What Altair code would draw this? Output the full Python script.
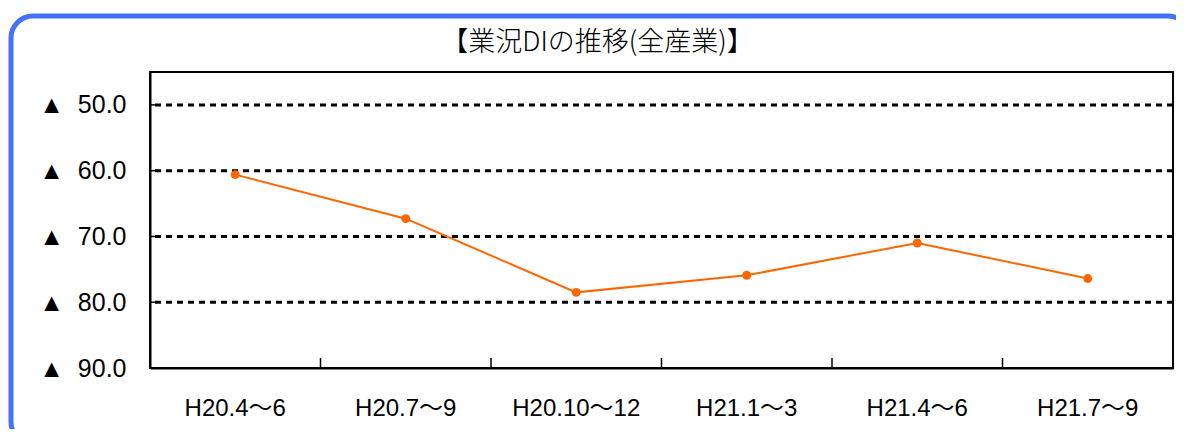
import altair as alt
import pandas as pd

categories = ["H20.4～6", "H20.7～9", "H20.10～12", "H21.1～3", "H21.4～6", "H21.7～9"]
values = [60.6, 67.3, 78.5, 75.9, 71.0, 76.4]
y_ticks = [50, 60, 70, 80, 90]
grid_values = [50, 60, 70, 80]
title_text = "【業況DIの推移(全産業)】"

FONT = "Noto Sans CJK JP"
LFONT = "Liberation Sans, Noto Sans CJK JP"

df = pd.DataFrame({"period": categories, "di": values})
grid_df = pd.DataFrame({"di": grid_values})
ytick_df = pd.DataFrame({"di": y_ticks})
xtick_df = pd.DataFrame({"period": categories[:-1]})

xscale = alt.Scale(type="band", paddingInner=0, paddingOuter=0, domain=categories)
yscale = alt.Scale(domain=[45, 90], reverse=True, nice=False, zero=False)

xaxis = alt.Axis(labelAngle=0, ticks=False, domainColor="black", domainWidth=2,
                 labelPadding=28, labelFontSize=24, labelFont=LFONT,
                 labelColor="black", grid=False)
yaxis = alt.Axis(values=y_ticks,
                 labelExpr="'▲\u00a0\u00a0' + format(datum.value, '.1f')",
                 grid=False, ticks=False, domainColor="black", domainWidth=2,
                 labelPadding=24, labelFontSize=25, labelFont=LFONT,
                 labelColor="black")

border = alt.Chart(pd.DataFrame({"a": [0]})).mark_rect(
    fillOpacity=0, stroke="#4472ff", strokeWidth=5, cornerRadius=22
).encode(
    x=alt.value(-139), x2=alt.value(1040), y=alt.value(-56), y2=alt.value(372)
)

grid = alt.Chart(grid_df).mark_rule(
    color="black", strokeWidth=3, strokeDash=[6, 5]
).encode(
    y=alt.Y("di:Q", scale=yscale, axis=yaxis, title=None)
)

yticks = alt.Chart(ytick_df).mark_rule(color="black", strokeWidth=1.5).encode(
    y=alt.Y("di:Q", scale=yscale, axis=yaxis, title=None),
    x=alt.value(0), x2=alt.value(10)
)

xticks = alt.Chart(xtick_df).mark_rule(color="black", strokeWidth=1.5).encode(
    x=alt.X("period:N", scale=xscale, bandPosition=1, axis=xaxis, title=None),
    y=alt.value(286), y2=alt.value(296)
)

line = alt.Chart(df).mark_line(color="#ff6600", strokeWidth=2).encode(
    x=alt.X("period:N", scale=xscale, axis=xaxis, title=None),
    y=alt.Y("di:Q", scale=yscale, axis=yaxis, title=None)
)

points = alt.Chart(df).mark_point(filled=True, size=80, color="#ff6600", opacity=1).encode(
    x=alt.X("period:N", scale=xscale, axis=xaxis, title=None),
    y=alt.Y("di:Q", scale=yscale, axis=yaxis, title=None)
)

chart = alt.layer(border, grid, yticks, xticks, line, points).properties(
    width=1023,
    height=296,
    title=alt.TitleParams(title_text, font=FONT, fontSize=27, fontWeight=300,
                          color="black", anchor="middle", frame="group", dx=-64,
                          offset=-64, baseline="alphabetic"),
    autosize=alt.AutoSizeParams(type="none"),
    padding={"left": 142, "top": 64, "right": 3, "bottom": 61},
).configure(background="white").configure_view(stroke="black", strokeWidth=2)

chart.save("out.html", embed_options={"renderer": "svg", "actions": False})
